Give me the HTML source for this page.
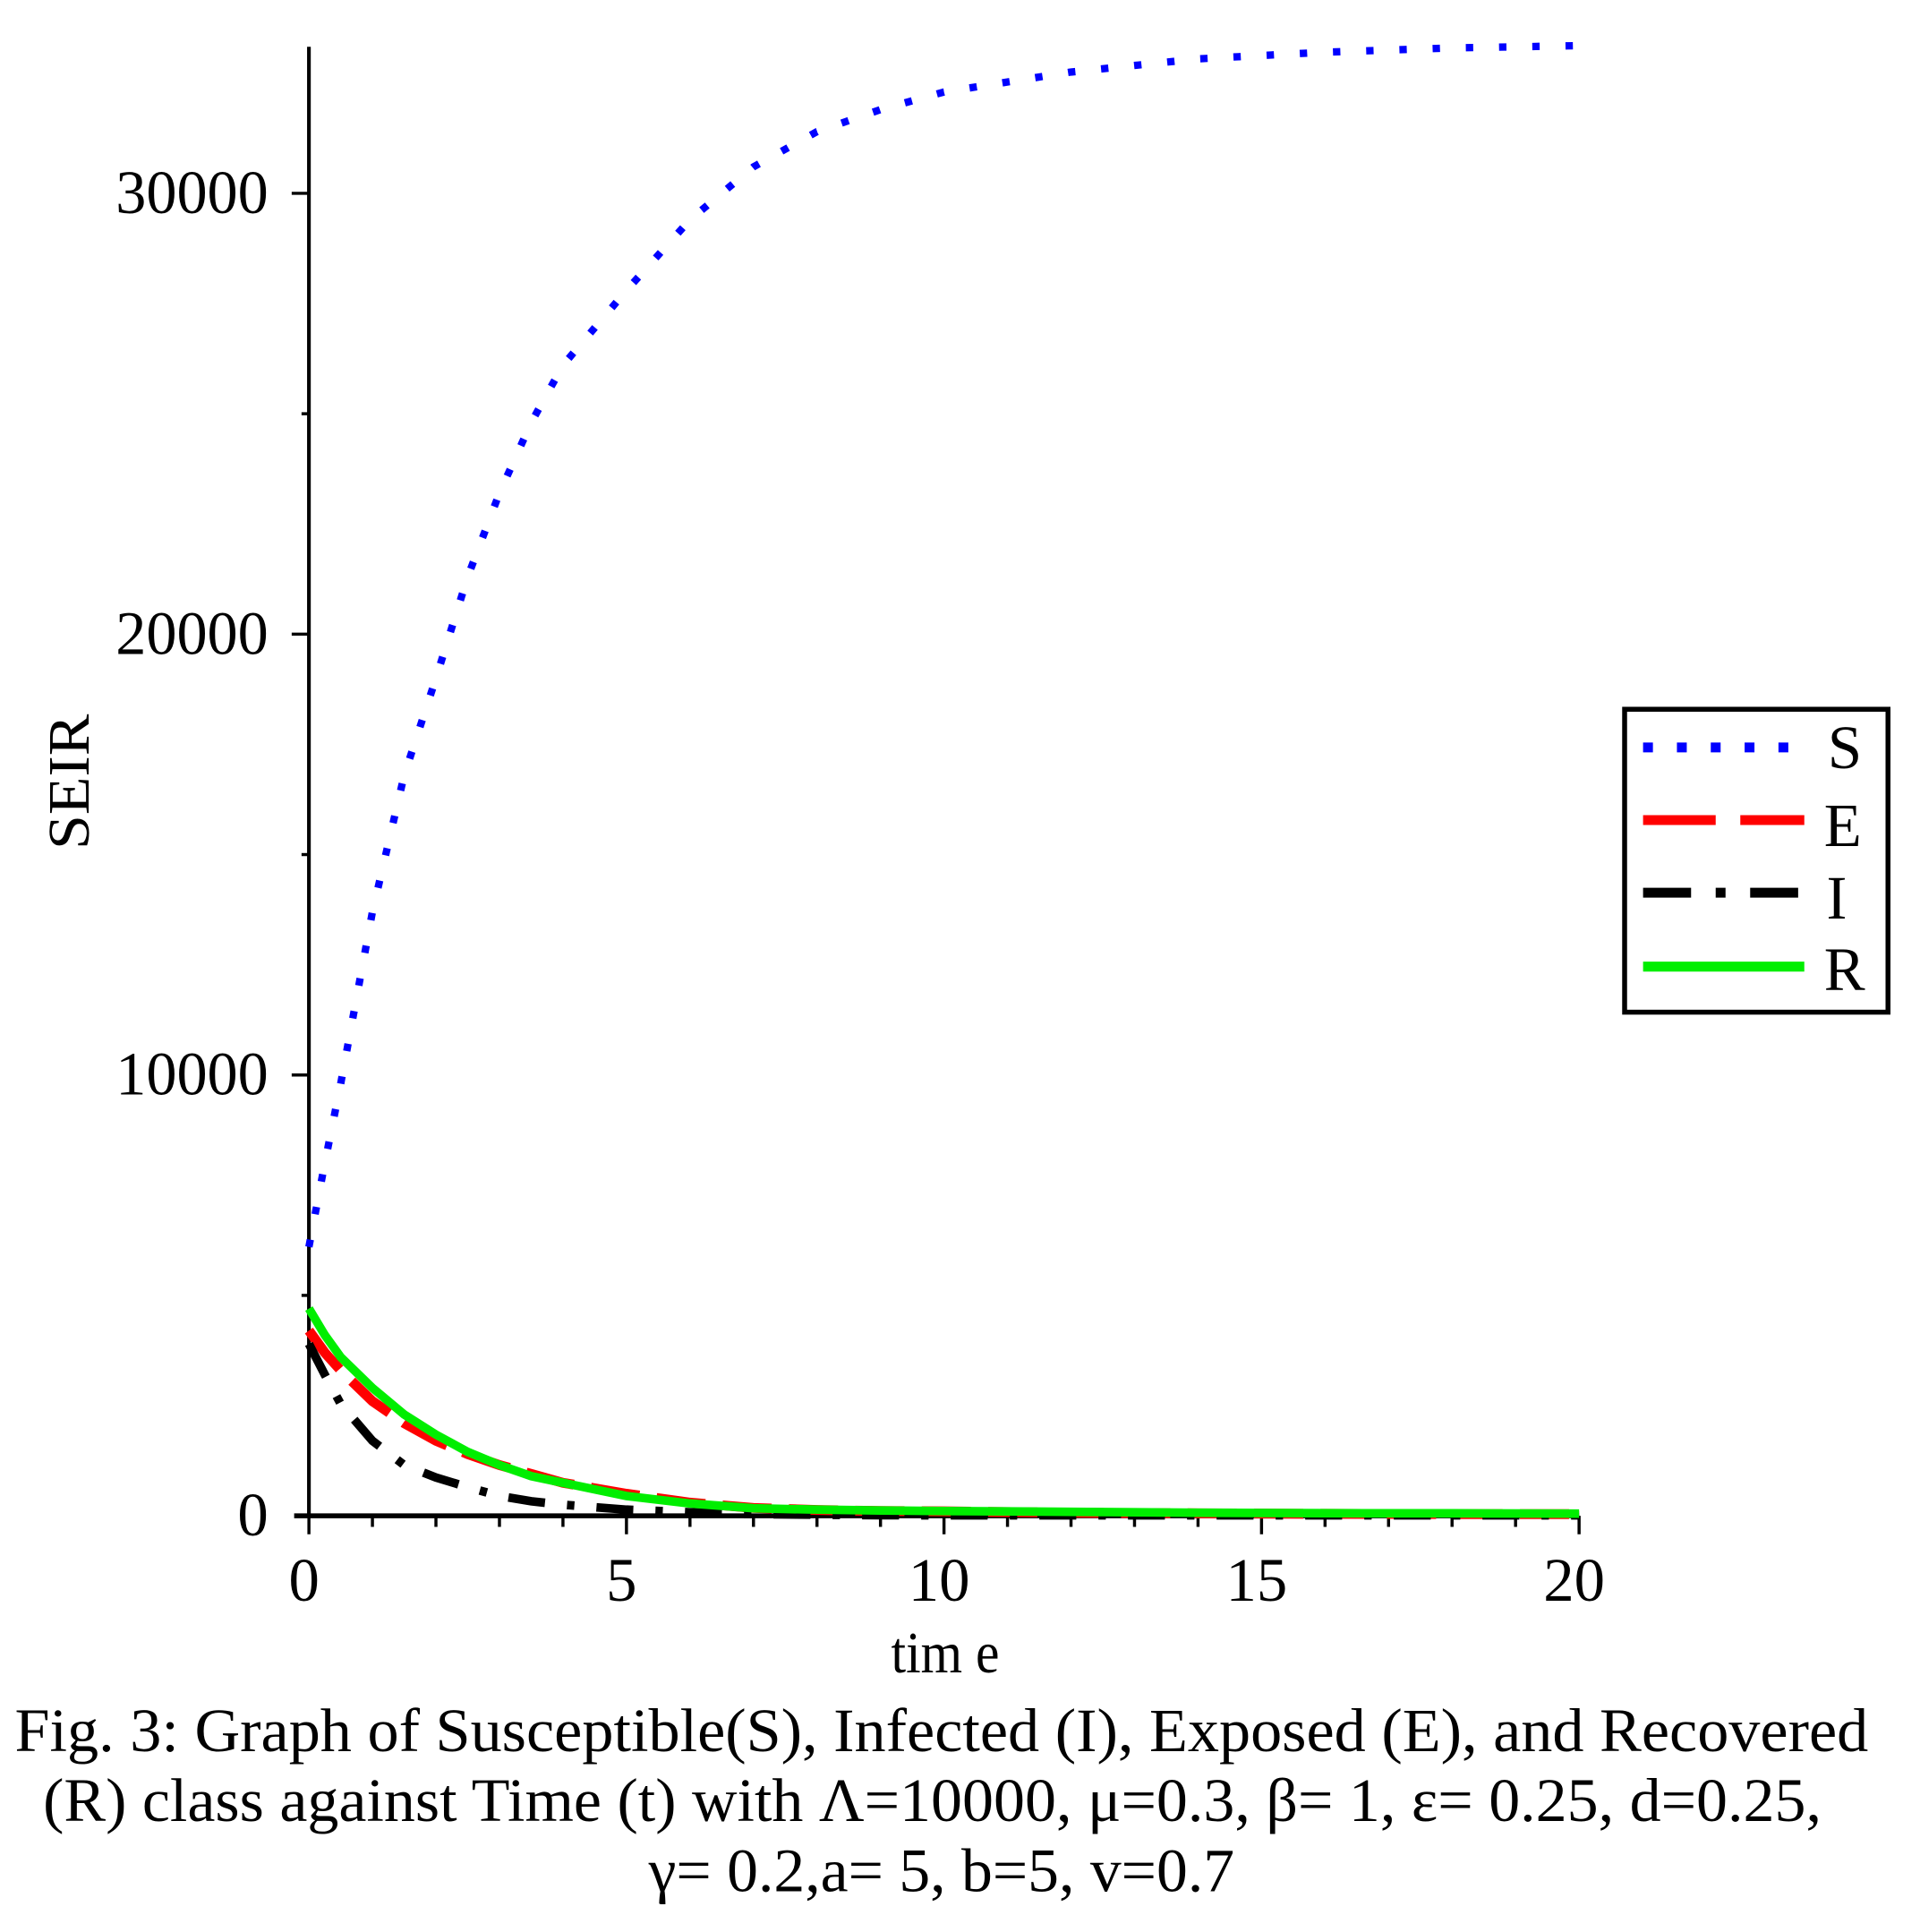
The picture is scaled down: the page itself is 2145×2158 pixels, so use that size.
<!DOCTYPE html>
<html><head><meta charset="utf-8"><style>
html,body{margin:0;padding:0;background:#fff;}
svg{display:block;}
text{font-family:"Liberation Serif","DejaVu Serif",serif;fill:#000;}
</style></head><body>
<svg id="chart" width="2145" height="2158" viewBox="0 0 1560 1569" preserveAspectRatio="none" xmlns="http://www.w3.org/2000/svg">
<g id="axes"></g>
<g id="series"></g>
<text transform="translate(72,635) rotate(-90)" text-anchor="middle" font-size="48" textLength="110" lengthAdjust="spacingAndGlyphs">SEIR</text>
<text x="768" y="1358" text-anchor="middle" font-size="48" textLength="88" lengthAdjust="spacingAndGlyphs">tim e</text>
<g>
<rect x="1320" y="576" width="214" height="246" fill="#fff" stroke="#000" stroke-width="4"/>
<g><line x1="1335" y1="607" x2="1466" y2="607" stroke="#0000ff" stroke-width="8" stroke-dasharray="8 19.5"/><text x="1485" y="624" font-size="50">S</text></g>
<g><line x1="1335" y1="666" x2="1466" y2="666" stroke="#ff0000" stroke-width="8" stroke-dasharray="59 20"/><text x="1482" y="687" font-size="50">E</text></g>
<g><line x1="1335" y1="725" x2="1466" y2="725" stroke="#000" stroke-width="8" stroke-dasharray="39 20 8 20"/><text x="1484" y="746" font-size="50">I</text></g>
<g><line x1="1335" y1="785" x2="1466" y2="785" stroke="#00ee00" stroke-width="8"/><text x="1482" y="804" font-size="50">R</text></g>
</g>
<g>
<text x="12" y="1422" font-size="50" textLength="1506" lengthAdjust="spacingAndGlyphs">Fig. 3: Graph of Susceptible(S), Infected (I), Exposed (E), and Recovered</text>
<text x="35" y="1479" font-size="50" textLength="1445" lengthAdjust="spacingAndGlyphs">(R) class against Time (t) with Λ=10000, μ=0.3, β= 1, ε= 0.25, d=0.25,</text>
<text x="527" y="1536" font-size="50" textLength="476" lengthAdjust="spacingAndGlyphs">γ= 0.2,a= 5, b=5, v=0.7</text>
</g>
</svg>
<script>
const tVals=[0,0.25,0.5,1,1.5,2,2.5,3,3.5,4,5,6,7,8,9,10,12,14,16,18,20];
const sVals=[6100,8000,9800,13700,16800,19000,21300,23200,24800,26100,27800,29400,30600,31400,31900,32300,32750,33050,33200,33300,33350];
const eVals=[4200,3700,3300,2600,2100,1700,1400,1150,950,750,500,300,180,130,110,100,70,55,45,40,40];
const iVals=[3900,3200,2540,1700,1150,870,650,450,330,250,140,80,40,25,15,10,10,10,10,10,10];
const rVals=[4700,4100,3600,2900,2300,1840,1450,1150,900,750,450,280,170,140,120,110,90,70,60,55,50];
const xTicks=["0","5","10","15","20"];
const yTicks=["0","10000","20000","30000"];
const NS="http://www.w3.org/2000/svg";
const X0=251,X1=1283,Y0=1231,YPER=0.0358;
function xs(t){return X0+(X1-X0)*t/20;}
function ys(v){return Y0-v*YPER;}
function mk(tag,attrs,parent){const e=document.createElementNS(NS,tag);for(const k in attrs)e.setAttribute(k,attrs[k]);parent.appendChild(e);return e;}
const ax=document.getElementById('axes');
const yl=mk('line',{x1:X0,y1:38,x2:X0,y2:Y0,stroke:'#000','stroke-width':3},ax);


const xl=mk('line',{x1:X0-12,y1:Y0,x2:X1,y2:Y0,stroke:'#000','stroke-width':4},ax);


for(let i=0;i<=20;i++){
  const major=i%5===0;
  const tk=mk('line',{x1:xs(i),y1:Y0,x2:xs(i),y2:Y0+(major?15:9),stroke:'#000','stroke-width':2.5},ax);
  
  
}
xTicks.forEach((lab,i)=>{
  const t=mk('text',{x:xs(i*5)-4,y:1300,'text-anchor':'middle','font-size':50},ax);
  t.textContent=lab;
  
  
});
for(let v=5000;v<=30000;v+=5000){
  const major=v%10000===0;
  const tk=mk('line',{x1:X0-(major?14:6),y1:ys(v),x2:X0,y2:ys(v),stroke:'#000','stroke-width':2.5},ax);
  
  
}
yTicks.forEach((lab,i)=>{
  const v=i*10000;
  const t=mk('text',{x:218,y:ys(v)+16,'text-anchor':'end','font-size':50},ax);
  if(lab.length>1){t.setAttribute('textLength',124);t.setAttribute('lengthAdjust','spacingAndGlyphs');}
  t.textContent=lab;
  
  
});
const sg=document.getElementById('series');
function path(vals){return vals.map((v,i)=>(i?'L':'M')+xs(tVals[i]).toFixed(1)+','+ys(v).toFixed(1)).join(' ');}
const pe=mk('path',{d:path(eVals),fill:'none',stroke:'#ff0000','stroke-width':8,'stroke-dasharray':'40 14'},sg);


const pi=mk('path',{d:path(iVals),fill:'none',stroke:'#000','stroke-width':7,'stroke-dasharray':'30 18 6 18'},sg);


const pr=mk('path',{d:path(rVals),fill:'none',stroke:'#00ee00','stroke-width':7},sg);


const ps=mk('path',{d:path(sVals),fill:'none',stroke:'#0000ff','stroke-width':6,'stroke-dasharray':'6 21'},sg);


</script>
</body></html>
